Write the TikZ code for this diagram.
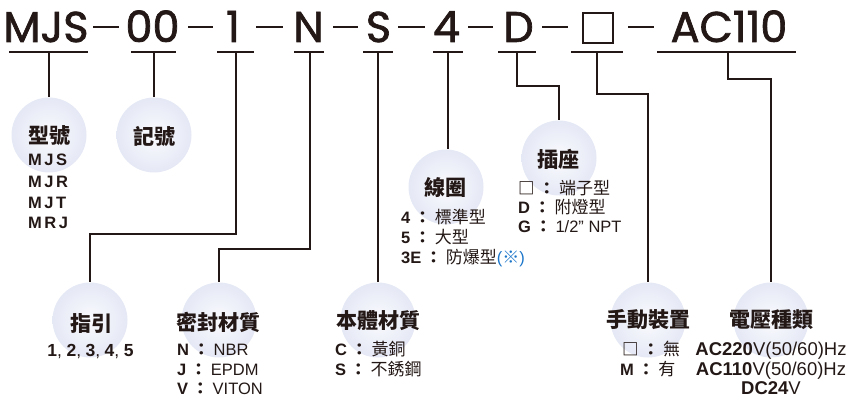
\documentclass[tikz,border=0pt]{standalone}
\usepackage{fontspec}
\setmainfont{Liberation Sans}
\newfontfamily\cjk{Noto Sans CJK TC}
\newfontfamily\topfont[FakeBold=1.6]{Poppins}
\newfontfamily\spaced[LetterSpace=15]{Liberation Sans}
\definecolor{ink}{HTML}{231815}
\definecolor{bubin}{HTML}{FAFBFE}
\definecolor{bubout}{HTML}{E5E8F5}
\definecolor{note}{HTML}{1B75C9}
\newcommand\zh[1]{{\cjk\fontsize{17}{18}\selectfont #1}}
\newcommand\kvline[2]{{\bfseries #1}\hspace{4pt}{\cjk\bfseries ：}\hspace{4pt}#2}
\tikzset{
  bubble/.style={circle, minimum size=75pt, inner sep=0pt, inner color=bubin, outer color=bubout},
  head/.style={font=\cjk\bfseries\fontsize{21}{21}\selectfont, text=ink, inner sep=0pt},
  val/.style={font=\fontsize{16.5}{18}\selectfont, text=ink, anchor=base west, inner sep=0pt},
  valc/.style={val, anchor=base},
  code/.style={font=\topfont\fontsize{43}{43}\selectfont, text=ink, anchor=base, inner sep=0pt},
  lead/.style={draw=ink, line width=1.2pt},
  hyph/.style={draw=ink, line width=2.4pt},
}
\begin{document}
\begin{tikzpicture}[x=1pt,y=-1pt]
\useasboundingbox (0,0) rectangle (849,401);
% top code
\node[code] (t1) at (46,42) {MJS};
\node[code] (t2) at (152.5,42) {00};
\node[code] (t3) at (233,42) {1};
\node[code] (t4) at (308.5,42) {N};
\node[code] (t5) at (378.5,42) {S};
\node[code] (t6) at (446.5,42) {4};
\node[code] (t7) at (518.5,42) {D};
\node[draw=ink, line width=2.4pt, minimum width=30pt, minimum height=30pt, inner sep=0pt] (t8) at (598,28) {};
\node[code] (t9) at (729,42) {AC110};
\draw[hyph] (93,27) -- (119,27);
\draw[hyph] (188,27) -- (213,27);
\draw[hyph] (256,27) -- (283,27);
\draw[hyph] (333,27) -- (358,27);
\draw[hyph] (398,27) -- (425,27);
\draw[hyph] (468,27) -- (493,27);
\draw[hyph] (542,27) -- (568,27);
\draw[hyph] (628,27) -- (654,27);
% underlines
\draw[lead] (9,52) -- (88,52);
\draw[lead] (131,52) -- (176,52);
\draw[lead] (217,52) -- (254,52);
\draw[lead] (294,52) -- (324,52);
\draw[lead] (363,52) -- (393,52);
\draw[lead] (433,52) -- (463,52);
\draw[lead] (498,52) -- (536,52);
\draw[lead] (571,52) -- (623,52);
\draw[lead] (657,52) -- (796,52);
\coordinate (u1) at (49,52);
\coordinate (u2) at (154,52);
\coordinate (u3) at (236,52);
\coordinate (u4) at (310,52);
\coordinate (u5) at (378,52);
\coordinate (u6) at (448,52);
\coordinate (u7) at (517,52);
\coordinate (u8) at (597,52);
\coordinate (u9) at (728,52);
% bubbles
\node[bubble] (b1) at (49,135) {};
\node[bubble] (b2) at (154,135) {};
\node[bubble] (b3) at (90,320) {};
\node[bubble] (b4) at (219,320) {};
\node[bubble] (b5) at (378,320) {};
\node[bubble] (b6) at (446,187) {};
\node[bubble] (b7) at (559,158) {};
\node[bubble] (b8) at (648,320) {};
\node[bubble] (b9) at (771,320) {};
% connectors
\draw[lead] (u1) -- (b1.north);
\draw[lead] (u2) -- (b2.north);
\draw[lead] (u3) -- ++(0,182) -| (b3.north);
\draw[lead] (u4) -- ++(0,197) -| (b4.north);
\draw[lead] (u5) -- (b5.north);
\draw[lead] (u6) -- (u6 |- b6.north);
\draw[lead] (u7) -- ++(0,34) -| (b7.north);
\draw[lead] (u8) -- ++(0,42) -| (b8.north);
\draw[lead] (u9) -- ++(0,27) -| (b9.north);
% headings
\node[head] (h1) at (49,136) {型號};
\node[head] (h2) at (154,136) {記號};
\node[head] (h3) at (91,323) {指引};
\node[head] (h4) at (218.5,322) {密封材質};
\node[head] (h5) at (378,321) {本體材質};
\node[head] (h6) at (445.5,188) {線圈};
\node[head] (h7) at (558,159) {插座};
\node[head] (h8) at (648,320) {手動裝置};
\node[head] (h9) at (771,320) {電壓種類};
% values
\node[val, font=\spaced\bfseries\fontsize{16.5}{18}\selectfont] (m1) at (28,165) {MJS};
\node[val, font=\spaced\bfseries\fontsize{16.5}{18}\selectfont] (m2) at (28,187) {MJR};
\node[val, font=\spaced\bfseries\fontsize{16.5}{18}\selectfont] (m3) at (28,208) {MJT};
\node[val, font=\spaced\bfseries\fontsize{16.5}{18}\selectfont] (m4) at (28,228) {MRJ};
\node[valc, font=\fontsize{17.5}{18}\selectfont] (g1) at (90.5,356) {\bfseries 1\mdseries,\hspace{4.5pt}\bfseries 2\mdseries,\hspace{4.5pt}\bfseries 3\mdseries,\hspace{4.5pt}\bfseries 4\mdseries,\hspace{4.5pt}\bfseries 5};
\node[val] (s1) at (177,355) {\kvline{N}{NBR}};
\node[val] (s2) at (177,375) {\kvline{J}{EPDM}};
\node[val] (s3) at (177,394) {\kvline{V}{VITON}};
\node[val] (c1) at (335,355) {\kvline{C}{\zh{黃銅}}};
\node[val] (c2) at (335,375) {\kvline{S}{\zh{不銹鋼}}};
\node[val] (k1) at (401,223) {\kvline{4}{\zh{標準型}}};
\node[val] (k2) at (401,243) {\kvline{5}{\zh{大型}}};
\node[val] (k3) at (401,263) {\kvline{3E}{\zh{防爆型}{\color{note}(\zh{※})}}};
\node[val] (p1) at (518,194) {\kvline{\cjk □}{\zh{端子型}}};
\node[val] (p2) at (518,213) {\kvline{D}{\zh{附燈型}}};
\node[val] (p3) at (518,233) {\kvline{G}{1/2" NPT}};
\node[val] (r1) at (622,355) {\kvline{\cjk □}{\zh{無}}};
\node[val] (r2) at (620,375) {\kvline{M}{\zh{有}}};
\node[valc, font=\fontsize{18.5}{19}\selectfont] (e1) at (771,355) {\textbf{AC220}V(50/60)Hz};
\node[valc, font=\fontsize{18.5}{19}\selectfont] (e2) at (771,375) {\textbf{AC110}V(50/60)Hz};
\node[valc, font=\fontsize{18.5}{19}\selectfont] (e3) at (771,394) {\textbf{DC24}V};
\end{tikzpicture}
\end{document}
